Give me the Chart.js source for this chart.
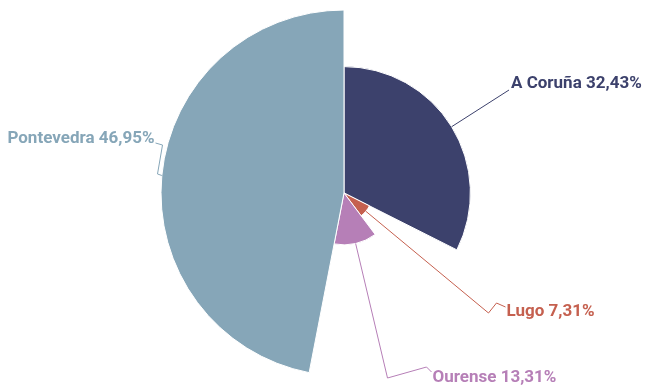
<!DOCTYPE html>
<html>
<head>
<meta charset="utf-8">
<script src="https://cdn.jsdelivr.net/npm/chart.js@4/dist/chart.umd.min.js"></script>
<style>
  html, body { margin: 0; padding: 0; background: #fff; }
</style>
</head>
<body>
<canvas id="provinceChart" width="645" height="390"></canvas>
<script>
const provinces = ["A Coruña", "Lugo", "Ourense", "Pontevedra"];
const shares = [32.43, 7.31, 13.31, 46.95];
const colors = ["#3c416c", "#c5604f", "#b67fb7", "#86a6b8"];

// leader line bends and label spot, relative to the chart centre
const labelLayout = [
  { bends: [[165, -103]], text: [167, -109], align: "left" },
  { bends: [[144.5, 120], [152.5, 110], [161.5, 114]], text: [162.5, 118.5], align: "left" },
  { bends: [[43.5, 185], [82.5, 174], [87.5, 179]], text: [88.5, 184.5], align: "left" },
  { bends: [[-186.5, -19], [-181.5, -48], [-188.5, -50]], text: [-189.5, -54.5], align: "right" }
];

const fmt = v => v.toFixed(2).replace(".", ",") + "%";

const leaderLabels = {
  id: "leaderLabels",
  afterDatasetsDraw(chart) {
    const c = chart.ctx;
    const meta = chart.getDatasetMeta(0);
    meta.data.forEach((arc, i) => {
      const p = arc.getProps(["x", "y", "startAngle", "endAngle", "outerRadius"], true);
      const mid = (p.startAngle + p.endAngle) / 2;
      const ax = p.x + Math.cos(mid) * p.outerRadius;
      const ay = p.y + Math.sin(mid) * p.outerRadius;
      const lay = labelLayout[i];
      c.save();
      c.strokeStyle = colors[i];
      c.lineWidth = 1;
      c.beginPath();
      c.moveTo(ax, ay);
      lay.bends.forEach(b => c.lineTo(p.x + b[0], p.y + b[1]));
      c.stroke();
      c.fillStyle = colors[i];
      c.font = "bold 17px Roboto";
      c.textAlign = lay.align;
      c.textBaseline = "middle";
      c.fillText(provinces[i] + " " + fmt(shares[i]), p.x + lay.text[0], p.y + lay.text[1]);
      c.restore();
    });
  }
};

new Chart(document.getElementById("provinceChart"), {
  type: "polarArea",
  data: {
    labels: provinces,
    datasets: [{
      data: shares,
      backgroundColor: colors,
      borderColor: "#ffffff",
      borderWidth: 1,
      angle: ctx => shares[ctx.dataIndex] * 3.6
    }]
  },
  options: {
    responsive: false,
    animation: false,
    layout: { padding: { left: 100, right: 56, top: 10, bottom: 14 } },
    scales: {
      r: {
        min: 0,
        max: 46.95,
        display: false
      }
    },
    plugins: {
      legend: { display: false },
      tooltip: { enabled: false }
    }
  },
  plugins: [leaderLabels]
});
</script>
</body>
</html>
